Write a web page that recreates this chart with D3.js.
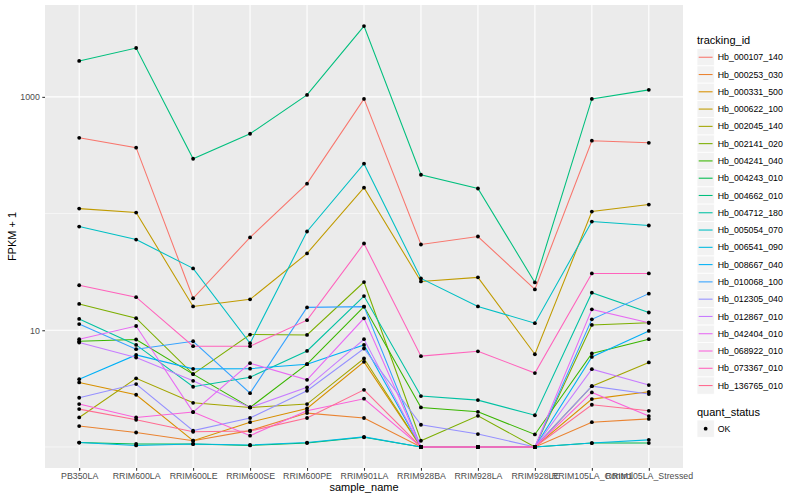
<!DOCTYPE html>
<html>
<head>
<meta charset="utf-8">
<script src="https://cdn.jsdelivr.net/npm/d3@7"></script>
<style>
  body { margin: 0; background: #fff; }
  svg { display: block; }
  text { font-family: "Liberation Sans", Arial, sans-serif; }
</style>
</head>
<body>
<div id="chart"></div>
<script>
// categories on the x axis
const samples = ["PB350LA", "RRIM600LA", "RRIM600LE", "RRIM600SE", "RRIM600PE", "RRIM901LA",
  "RRIM928BA", "RRIM928LA", "RRIM928LE", "RRIM105LA_Control", "RRIM105LA_Stressed"];

const trackingIds = ["Hb_000107_140", "Hb_000253_030", "Hb_000331_500", "Hb_000622_100", "Hb_002045_140",
  "Hb_002141_020", "Hb_004241_040", "Hb_004243_010", "Hb_004662_010", "Hb_004712_180",
  "Hb_005054_070", "Hb_006541_090", "Hb_008667_040", "Hb_010068_100", "Hb_012305_040",
  "Hb_012867_010", "Hb_042404_010", "Hb_068922_010", "Hb_073367_010", "Hb_136765_010"];

// ggplot default hue palette, 20 levels
const lineColors = ["#F8766D", "#EA8331", "#D89000", "#C09B00", "#A3A500", "#7CAE00", "#39B600", "#00BB4E",
  "#00BF7D", "#00C1A3", "#00BFC4", "#00BAE0", "#00B0F6", "#35A2FF", "#9590FF", "#C77CFF",
  "#E76BF3", "#FA62DB", "#FF62BC", "#FF6C91"];

// FPKM per sample
const hb_000107_140 = [445, 366, 17.8, 61.4, 179.5, 960, 53.3, 62.6, 21.4, 420, 403];
const hb_000253_030 = [0.51, 0.33, 0.13, 0.38, 0.95, 0.77, 0, 0, 0, 0.63, 0.74];
const hb_000331_500 = [2.57, 1.80, 0.13, 0.63, 1.14, 4.36, 0, 0, 0, 1.57, 1.97];
const hb_000622_100 = [109.3, 101, 15.0, 17.4, 44.5, 165.8, 25.2, 27.4, 5.23, 103, 118.4];
const hb_002045_140 = [0.79, 2.87, 1.39, 1.18, 1.33, 4.73, 0, 0, 0, 2.32, 4.30];
const hb_002141_020 = [15.8, 11.7, 3.21, 8.19, 8.12, 24.9, 0.13, 0.85, 0, 10.1, 10.6];
const hb_004241_040 = [7.05, 7.33, 3.21, 1.18, 4.12, 14.95, 1.18, 1.0, 0.28, 5.32, 7.38];
const hb_004243_010 = [0.09, 0.06, 0.06, 0.03, 0.08, 0.21, 0, 0, 0, 0.08, 0.08];
const hb_004662_010 = [2030, 2622, 294, 482, 1039, 4044, 214, 163, 24.7, 960, 1147];
const hb_004712_180 = [11.5, 6.49, 2.28, 2.96, 5.65, 18.65, 1.73, 1.52, 0.87, 20.0, 13.2];
const hb_005054_070 = [76.4, 58.9, 32.9, 6.74, 69.2, 266.6, 26.8, 15.0, 10.5, 84.4, 78.0];
const hb_006541_090 = [0.09, 0.03, 0.06, 0.04, 0.09, 0.22, 0, 0, 0, 0.08, 0.15];
const hb_008667_040 = [2.81, 5.15, 3.67, 3.69, 4.12, 6.49, 0, 0, 0, 4.91, 8.86];
const hb_010068_100 = [10.3, 5.88, 7.05, 1.89, 14.7, 14.95, 0, 0, 0, 11.4, 19.6];
const hb_012305_040 = [1.64, 2.46, 0.38, 0.77, 2.03, 5.98, 0.55, 0.29, 0, 2.32, 1.84];
const hb_012867_010 = [6.85, 4.84, 2.69, 1.18, 2.24, 7.38, 0, 0, 0, 3.64, 2.39];
const hb_042404_010 = [7.38, 9.88, 0.99, 4.22, 2.76, 11.66, 0, 0, 0, 14.1, 10.6];
const hb_068922_010 = [1.33, 0.79, 0.99, 0.25, 1.04, 1.59, 0, 0, 0, 1.93, 0.84];
const hb_073367_010 = [23.3, 18.2, 6.3, 6.3, 11.2, 54.4, 5.0, 5.6, 3.3, 29.7, 29.7];
const hb_136765_010 = [1.11, 0.71, 0.35, 0.37, 0.77, 2.09, 0, 0, 0, 1.30, 1.04];

const seriesValues = [hb_000107_140, hb_000253_030, hb_000331_500, hb_000622_100, hb_002045_140,
  hb_002141_020, hb_004241_040, hb_004243_010, hb_004662_010, hb_004712_180,
  hb_005054_070, hb_006541_090, hb_008667_040, hb_010068_100, hb_012305_040,
  hb_012867_010, hb_042404_010, hb_068922_010, hb_073367_010, hb_136765_010];

const quantStatus = ["OK"];
const yMajorTicks = [10, 1000];
const yMinorTicks = [1, 100];

const width = 800, height = 500;
const panel = {left: 45, right: 683, top: 5, bottom: 468};

const svg = d3.select("#chart").append("svg")
  .attr("width", width).attr("height", height);

// x: discrete with ggplot's 0.6 expansion
const x = d3.scalePoint().domain(samples).range([panel.left, panel.right]).padding(0.6);

// y: log10 of FPKM + 1, 5% expansion
const allLogs = seriesValues.flat().map(v => Math.log10(v + 1));
const [lo, hi] = d3.extent(allLogs);
const pad = (hi - lo) * 0.05;
const y = d3.scaleLog().domain([Math.pow(10, lo - pad), Math.pow(10, hi + pad)])
  .range([panel.bottom, panel.top]);

// panel background
svg.append("rect")
  .attr("x", panel.left).attr("y", panel.top)
  .attr("width", panel.right - panel.left).attr("height", panel.bottom - panel.top)
  .attr("fill", "#EBEBEB");

const grid = svg.append("g");
grid.selectAll(".ymin").data(yMinorTicks).join("line")
  .attr("x1", panel.left).attr("x2", panel.right)
  .attr("y1", d => y(d)).attr("y2", d => y(d))
  .attr("stroke", "#fff").attr("stroke-width", 0.55);
grid.selectAll(".ymaj").data(yMajorTicks).join("line")
  .attr("x1", panel.left).attr("x2", panel.right)
  .attr("y1", d => y(d)).attr("y2", d => y(d))
  .attr("stroke", "#fff").attr("stroke-width", 1.1);
grid.selectAll(".xmaj").data(samples).join("line")
  .attr("x1", d => x(d)).attr("x2", d => x(d))
  .attr("y1", panel.top).attr("y2", panel.bottom)
  .attr("stroke", "#fff").attr("stroke-width", 1.1);

// lines
const line = d3.line()
  .x((d, i) => x(samples[i]))
  .y(d => y(d + 1));

svg.append("g").selectAll("path")
  .data(seriesValues)
  .join("path")
  .attr("d", d => line(d))
  .attr("fill", "none")
  .attr("stroke", (d, i) => lineColors[i])
  .attr("stroke-width", 1.07);

// points
const pts = seriesValues.flatMap(vals => vals.map((v, i) => ({s: samples[i], v})));
svg.append("g").selectAll("circle")
  .data(pts)
  .join("circle")
  .attr("cx", d => x(d.s))
  .attr("cy", d => y(d.v + 1))
  .attr("r", 1.9)
  .attr("fill", "#000");

// axes
const xAxis = d3.axisBottom(x).tickSize(2.7).tickPadding(2.5);
const gx = svg.append("g").attr("transform", `translate(0,${panel.bottom})`).call(xAxis);
const yAxis = d3.axisLeft(y).tickValues(yMajorTicks).tickFormat(d3.format("d")).tickSize(2.7).tickPadding(2.5);
const gy = svg.append("g").attr("transform", `translate(${panel.left},0)`).call(yAxis);
[gx, gy].forEach(g => {
  g.select(".domain").remove();
  g.selectAll(".tick line").attr("stroke", "#333").attr("stroke-width", 1.07);
  g.selectAll(".tick text").attr("fill", "#4D4D4D").style("font-size", "8.8px")
    .style("font-family", '"Liberation Sans", Arial, sans-serif');
});

svg.append("text")
  .attr("x", (panel.left + panel.right) / 2).attr("y", 491)
  .attr("text-anchor", "middle").style("font-size", "11px").text("sample_name");

svg.append("text")
  .attr("transform", `translate(16,${(panel.top + panel.bottom) / 2}) rotate(-90)`)
  .attr("text-anchor", "middle").style("font-size", "11px").text("FPKM + 1");

// legend: tracking_id
const key = 17.28;
const legX = 697;
const leg = svg.append("g");
leg.append("text").attr("x", legX).attr("y", 44).style("font-size", "11px").text("tracking_id");
const items = leg.selectAll(".item").data(trackingIds).join("g")
  .attr("transform", (d, i) => `translate(${legX},${48.6 + i * key})`);
items.append("rect").attr("width", key).attr("height", key)
  .attr("fill", "#F2F2F2").attr("stroke", "#fff").attr("stroke-width", 0.8);
items.append("line").attr("x1", 1.7).attr("x2", key - 1.7)
  .attr("y1", key / 2).attr("y2", key / 2)
  .attr("stroke", (d, i) => lineColors[i]).attr("stroke-width", 1.07);
items.append("text").attr("x", key + 3.5).attr("y", key / 2 + 3.1)
  .style("font-size", "8.8px").attr("fill", "#000").text(d => d);

// legend: quant_status
const leg2 = svg.append("g");
leg2.append("text").attr("x", legX).attr("y", 416).style("font-size", "11px").text("quant_status");
const items2 = leg2.selectAll(".item").data(quantStatus).join("g")
  .attr("transform", (d, i) => `translate(${legX},${420 + i * key})`);
items2.append("rect").attr("width", key).attr("height", key)
  .attr("fill", "#F2F2F2").attr("stroke", "#fff").attr("stroke-width", 0.8);
items2.append("circle").attr("cx", key / 2).attr("cy", key / 2).attr("r", 1.9).attr("fill", "#000");
items2.append("text").attr("x", key + 3.5).attr("y", key / 2 + 3.1)
  .style("font-size", "8.8px").text(d => d);
</script>
</body>
</html>
